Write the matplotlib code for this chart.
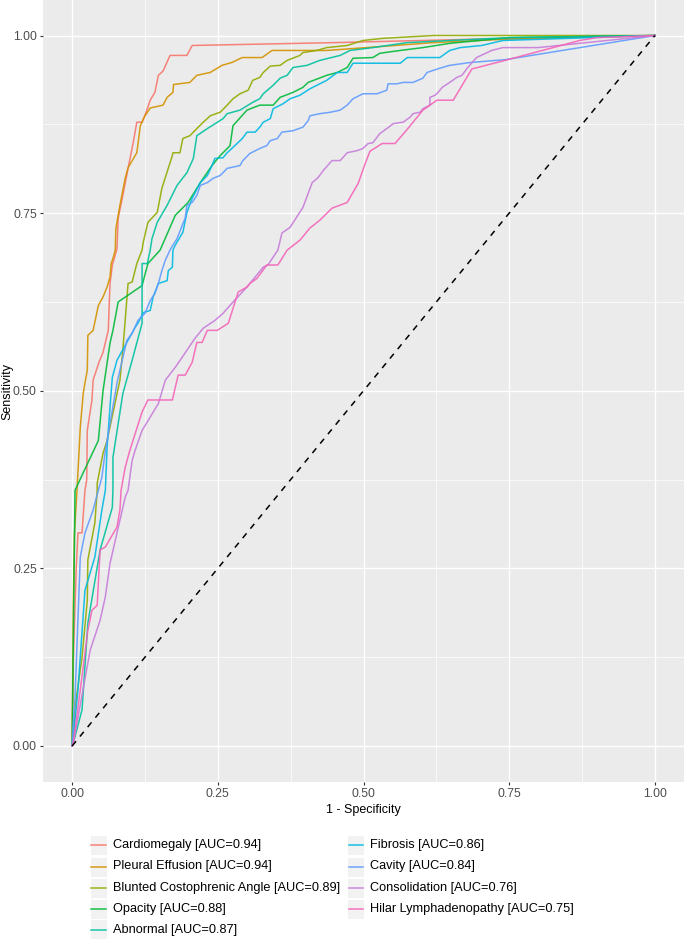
import matplotlib
matplotlib.use("Agg")
import matplotlib.pyplot as plt
from matplotlib.lines import Line2D
from matplotlib.patches import Rectangle

plt.rcParams['font.family'] = ['Liberation Sans', 'DejaVu Sans']

labels = ["Cardiomegaly [AUC=0.94]", "Pleural Effusion [AUC=0.94]",
          "Blunted Costophrenic Angle [AUC=0.89]", "Opacity [AUC=0.88]",
          "Abnormal [AUC=0.87]", "Fibrosis [AUC=0.86]", "Cavity [AUC=0.84]",
          "Consolidation [AUC=0.76]", "Hilar Lymphadenopathy [AUC=0.75]"]
colors = ["#F8766D", "#D39200", "#93AA00", "#00BA38", "#00C19F",
          "#00B9E3", "#619CFF", "#C77CDA", "#F564B8"]

card_fpr = [0, 0.002, 0.007, 0.010, 0.017, 0.022, 0.025, 0.026, 0.034, 0.036, 0.046, 0.053, 0.062, 0.065,
            0.069, 0.077, 0.079, 0.086, 0.096, 0.105, 0.111, 0.120, 0.127, 0.134, 0.142, 0.148, 0.156,
            0.168, 0.197, 0.206, 0.45, 0.7, 1]
card_tpr = [0, 0.12, 0.25, 0.30, 0.30, 0.36, 0.374, 0.444, 0.487, 0.515, 0.540, 0.554, 0.585, 0.651,
            0.677, 0.70, 0.743, 0.771, 0.813, 0.850, 0.878, 0.878, 0.892, 0.909, 0.920, 0.944, 0.950,
            0.972, 0.972, 0.986, 0.99, 0.995, 1]

pleu_fpr = [0, 0.002, 0.004, 0.009, 0.014, 0.019, 0.022, 0.026, 0.027, 0.036, 0.045, 0.053, 0.060, 0.065,
            0.067, 0.070, 0.074, 0.075, 0.082, 0.091, 0.096, 0.111, 0.117, 0.125, 0.134, 0.156, 0.163,
            0.173, 0.174, 0.202, 0.214, 0.237, 0.257, 0.274, 0.292, 0.326, 0.343, 0.437, 0.505, 0.619,
            0.75, 1]
pleu_tpr = [0, 0.2, 0.3, 0.37, 0.449, 0.496, 0.511, 0.529, 0.578, 0.585, 0.620, 0.632, 0.646, 0.660,
            0.679, 0.686, 0.698, 0.728, 0.761, 0.799, 0.814, 0.835, 0.873, 0.887, 0.898, 0.902, 0.913,
            0.92, 0.931, 0.934, 0.944, 0.948, 0.958, 0.962, 0.969, 0.969, 0.979, 0.979, 0.983, 0.990,
            0.995, 1]

blun_fpr = [0, 0.002, 0.005, 0.017, 0.026, 0.027, 0.039, 0.043, 0.043, 0.053, 0.060, 0.082, 0.087, 0.096,
            0.103, 0.111, 0.120, 0.122, 0.130, 0.146, 0.154, 0.172, 0.173, 0.185, 0.190, 0.202, 0.214,
            0.225, 0.237, 0.254, 0.266, 0.276, 0.288, 0.302, 0.310, 0.322, 0.328, 0.340, 0.357, 0.369,
            0.391, 0.396, 0.420, 0.437, 0.472, 0.499, 0.533, 0.62, 1]
blun_tpr = [0, 0.004, 0.055, 0.125, 0.205, 0.262, 0.314, 0.36, 0.37, 0.412, 0.43, 0.515, 0.557, 0.651,
            0.653, 0.679, 0.698, 0.709, 0.737, 0.751, 0.785, 0.831, 0.835, 0.835, 0.855, 0.859, 0.869,
            0.878, 0.887, 0.892, 0.902, 0.911, 0.918, 0.923, 0.937, 0.941, 0.948, 0.957, 0.958, 0.965,
            0.972, 0.976, 0.979, 0.983, 0.986, 0.993, 0.996, 1.0, 1]

opac_fpr = [0, 0.002, 0.005, 0.045, 0.053, 0.065, 0.070, 0.079, 0.120, 0.130, 0.151, 0.177, 0.199, 0.220,
            0.240, 0.254, 0.271, 0.276, 0.300, 0.322, 0.345, 0.357, 0.379, 0.396, 0.405, 0.437, 0.455,
            0.472, 0.482, 0.516, 0.528, 0.563, 0.602, 0.648, 0.75, 1]
opac_tpr = [0, 0.15, 0.36, 0.43, 0.50, 0.567, 0.585, 0.625, 0.648, 0.679, 0.698, 0.747, 0.765, 0.793,
            0.817, 0.831, 0.845, 0.873, 0.895, 0.902, 0.902, 0.913, 0.920, 0.927, 0.934, 0.944, 0.948,
            0.955, 0.968, 0.969, 0.975, 0.979, 0.983, 0.989, 0.997, 1]

abno_fpr = [0, 0.002, 0.017, 0.027, 0.048, 0.069, 0.070, 0.070, 0.087, 0.103, 0.120, 0.120, 0.129, 0.134,
            0.137, 0.146, 0.163, 0.180, 0.197, 0.208, 0.214, 0.232, 0.259, 0.266, 0.288, 0.310, 0.322,
            0.328, 0.345, 0.357, 0.369, 0.379, 0.403, 0.425, 0.460, 0.477, 0.516, 0.575, 0.648, 0.75, 1]
abno_tpr = [0, 0.004, 0.051, 0.173, 0.276, 0.336, 0.36, 0.406, 0.496, 0.543, 0.595, 0.679, 0.679, 0.698,
            0.714, 0.737, 0.761, 0.789, 0.807, 0.827, 0.859, 0.869, 0.883, 0.890, 0.895, 0.906, 0.911,
            0.918, 0.930, 0.940, 0.944, 0.955, 0.958, 0.965, 0.972, 0.979, 0.983, 0.990, 0.993, 0.997, 1]

fibr_fpr = [0, 0.002, 0.010, 0.022, 0.039, 0.051, 0.057, 0.060, 0.065, 0.069, 0.077, 0.108, 0.113, 0.122,
            0.134, 0.139, 0.148, 0.163, 0.165, 0.172, 0.173, 0.177, 0.190, 0.197, 0.206, 0.220, 0.232,
            0.240, 0.245, 0.259, 0.266, 0.274, 0.283, 0.292, 0.300, 0.314, 0.322, 0.328, 0.340, 0.345,
            0.362, 0.374, 0.391, 0.408, 0.437, 0.455, 0.472, 0.482, 0.563, 0.575, 0.631, 0.648, 0.666,
            0.703, 0.739, 1]
fibr_tpr = [0, 0.013, 0.079, 0.219, 0.266, 0.332, 0.36, 0.421, 0.477, 0.519, 0.543, 0.589, 0.595, 0.610,
            0.613, 0.632, 0.651, 0.655, 0.669, 0.674, 0.698, 0.705, 0.723, 0.751, 0.771, 0.793, 0.803,
            0.817, 0.827, 0.828, 0.835, 0.841, 0.848, 0.855, 0.864, 0.864, 0.871, 0.878, 0.883, 0.897,
            0.904, 0.911, 0.916, 0.925, 0.937, 0.948, 0.948, 0.961, 0.961, 0.969, 0.969, 0.979, 0.983,
            0.986, 0.993, 1]

cavi_fpr = [0, 0.002, 0.005, 0.014, 0.022, 0.036, 0.045, 0.051, 0.057, 0.077, 0.086, 0.094, 0.103, 0.113,
            0.125, 0.134, 0.142, 0.148, 0.154, 0.160, 0.168, 0.173, 0.180, 0.189, 0.194, 0.197, 0.206,
            0.214, 0.220, 0.232, 0.242, 0.254, 0.259, 0.266, 0.288, 0.293, 0.305, 0.322, 0.334, 0.340,
            0.352, 0.360, 0.379, 0.396, 0.405, 0.408, 0.425, 0.443, 0.460, 0.472, 0.482, 0.499, 0.523,
            0.540, 0.542, 0.557, 0.568, 0.585, 0.602, 0.609, 0.631, 0.648, 0.683, 0.743, 1]
cavi_tpr = [0, 0.032, 0.069, 0.266, 0.30, 0.332, 0.36, 0.378, 0.416, 0.511, 0.543, 0.571, 0.581, 0.599,
            0.609, 0.627, 0.637, 0.651, 0.669, 0.684, 0.698, 0.705, 0.714, 0.733, 0.743, 0.761, 0.765,
            0.775, 0.789, 0.793, 0.799, 0.803, 0.807, 0.813, 0.817, 0.824, 0.834, 0.841, 0.845, 0.852,
            0.855, 0.864, 0.866, 0.871, 0.880, 0.887, 0.890, 0.892, 0.895, 0.902, 0.911, 0.918, 0.918,
            0.923, 0.932, 0.932, 0.934, 0.934, 0.940, 0.948, 0.954, 0.958, 0.962, 0.966, 1]

cons_fpr = [0, 0.002, 0.031, 0.048, 0.057, 0.065, 0.077, 0.086, 0.091, 0.096, 0.103, 0.108, 0.120, 0.148,
            0.160, 0.177, 0.197, 0.211, 0.225, 0.245, 0.259, 0.274, 0.300, 0.305, 0.328, 0.336, 0.353,
            0.360, 0.374, 0.396, 0.412, 0.422, 0.431, 0.446, 0.460, 0.472, 0.489, 0.499, 0.508, 0.516,
            0.528, 0.540, 0.551, 0.568, 0.580, 0.585, 0.597, 0.602, 0.614, 0.614, 0.623, 0.628, 0.635,
            0.648, 0.660, 0.669, 0.679, 0.694, 0.720, 0.739, 0.80, 1]
cons_tpr = [0, 0.004, 0.135, 0.177, 0.210, 0.257, 0.30, 0.332, 0.35, 0.36, 0.402, 0.416, 0.444, 0.482,
            0.515, 0.533, 0.557, 0.574, 0.588, 0.599, 0.609, 0.623, 0.646, 0.651, 0.674, 0.677, 0.698,
            0.722, 0.730, 0.758, 0.793, 0.800, 0.810, 0.824, 0.824, 0.835, 0.838, 0.841, 0.848, 0.849,
            0.862, 0.869, 0.876, 0.878, 0.885, 0.890, 0.892, 0.897, 0.902, 0.913, 0.916, 0.920, 0.927,
            0.934, 0.941, 0.944, 0.955, 0.969, 0.979, 0.983, 0.983, 1]

hila_fpr = [0, 0.002, 0.014, 0.027, 0.034, 0.043, 0.048, 0.057, 0.069, 0.077, 0.082, 0.084, 0.091, 0.099,
            0.120, 0.130, 0.172, 0.182, 0.194, 0.206, 0.214, 0.223, 0.232, 0.249, 0.268, 0.285, 0.300,
            0.305, 0.317, 0.334, 0.353, 0.369, 0.391, 0.408, 0.425, 0.446, 0.472, 0.491, 0.503, 0.511,
            0.532, 0.554, 0.571, 0.602, 0.626, 0.654, 0.686, 0.743, 0.871, 0.90, 1]
hila_tpr = [0, 0.004, 0.079, 0.163, 0.191, 0.198, 0.276, 0.280, 0.297, 0.308, 0.332, 0.36, 0.392, 0.416,
            0.470, 0.487, 0.487, 0.522, 0.522, 0.540, 0.568, 0.568, 0.585, 0.585, 0.595, 0.639, 0.646,
            0.651, 0.658, 0.677, 0.677, 0.698, 0.712, 0.729, 0.740, 0.757, 0.765, 0.792, 0.820, 0.837,
            0.848, 0.848, 0.864, 0.895, 0.909, 0.909, 0.953, 0.965, 0.993, 0.997, 1]

fprs = [card_fpr, pleu_fpr, blun_fpr, opac_fpr, abno_fpr, fibr_fpr, cavi_fpr, cons_fpr, hila_fpr]
tprs = [card_tpr, pleu_tpr, blun_tpr, opac_tpr, abno_tpr, fibr_tpr, cavi_tpr, cons_tpr, hila_tpr]

major_ticks = [0.0, 0.25, 0.5, 0.75, 1.0]
tick_labels = ["0.00", "0.25", "0.50", "0.75", "1.00"]
minor_ticks = [0.125, 0.375, 0.625, 0.875]

W, H = 685, 939
fig = plt.figure(figsize=(W / 100, H / 100), dpi=100)
fig.patch.set_facecolor("white")
ax = fig.add_axes([43 / W, (H - 781.5) / H, (684 - 43) / W, 781.5 / H])
ax.set_facecolor("#EBEBEB")
for s in ax.spines.values():
    s.set_visible(False)
ax.set_xlim(-0.05, 1.05)
ax.set_ylim(-0.05, 1.05)
ax.set_xticks(major_ticks)
ax.set_xticklabels(tick_labels)
ax.set_yticks(major_ticks)
ax.set_yticklabels(tick_labels)
ax.set_xticks(minor_ticks, minor=True)
ax.set_yticks(minor_ticks, minor=True)
ax.tick_params(which="major", length=2.5, width=0.8, color="#333333",
               labelcolor="#4D4D4D", labelsize=8.8, pad=2)
ax.tick_params(which="minor", length=0)
ax.grid(which="major", color="white", linewidth=1.0)
ax.grid(which="minor", color="white", linewidth=0.5)
ax.set_axisbelow(True)

for fx, ty, c in zip(fprs, tprs, colors):
    ax.plot(fx, ty, color=c, linewidth=1.1, alpha=0.9, zorder=3)
ax.plot([0, 1], [0, 1], color="black", linestyle=(0, (4, 4)), linewidth=1.1, zorder=4)

ax.set_xlabel("1 - Specificity", fontsize=9, color="black", labelpad=3)
fig.text(7 / W, 1 - 391 / H, "Sensitivity", fontsize=9, color="black",
         rotation=90, ha="center", va="center")

# legend (ggplot style, drawn below the panel)
row_y = [845, 866.5, 887.5, 909, 929.5]
cols_x = [90, 347]
for i, (lab, c) in enumerate(zip(labels, colors)):
    col = 0 if i < 5 else 1
    row = i if i < 5 else i - 5
    x0 = cols_x[col]
    yc = row_y[row]
    fig.add_artist(Rectangle((x0 / W, 1 - (yc + 10) / H), 17 / W, 20 / H,
                             transform=fig.transFigure, facecolor="#F2F2F2",
                             edgecolor="white", linewidth=0.8))
    fig.add_artist(Line2D([(x0 + 1.5) / W, (x0 + 15.5) / W], [1 - yc / H, 1 - yc / H],
                          transform=fig.transFigure, color=c, linewidth=1.1, alpha=0.9))
    fig.text((x0 + 23) / W, 1 - yc / H, lab, fontsize=9.2, color="black",
             ha="left", va="center")

fig.savefig("out.png", dpi=100, facecolor="white")
